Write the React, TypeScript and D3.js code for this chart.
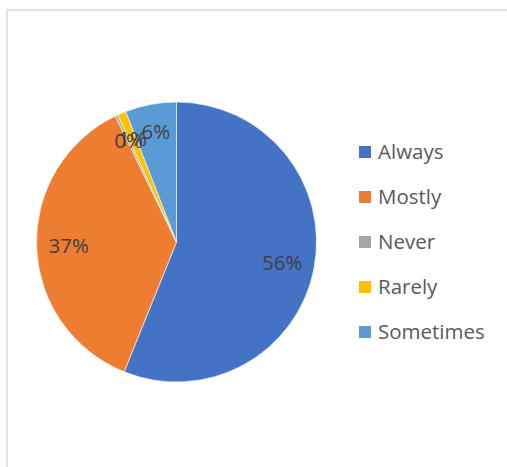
import * as d3 from 'd3';

const categories = ['Always', 'Mostly', 'Never', 'Rarely', 'Sometimes'];
const shares = [56.1, 36.7, 0.3, 1.0, 5.9];
const colors = ['#4472C4', '#ED7D31', '#A5A5A5', '#FFC000', '#5B9BD5'];

const W = 507;
const H = 467;

export default function App() {
  const cx = 176.5;
  const cy = 242;
  const radius = 140;

  const pie = d3
    .pie<number>()
    .sort(null)
    .value((d) => d);
  const slices = pie(shares);

  const arc = d3.arc<d3.PieArcDatum<number>>().innerRadius(0).outerRadius(radius);
  // bigger slices get labels a bit further in, like Excel's best fit
  const labelArc = (small: boolean) =>
    d3
      .arc<d3.PieArcDatum<number>>()
      .innerRadius(radius * (small ? 0.8 : 0.77))
      .outerRadius(radius * (small ? 0.8 : 0.77));

  const legendY = d3
    .scalePoint<string>()
    .domain(categories)
    .range([152, 332]);

  const font = "'Open Sans', sans-serif";

  return (
    <div style={{ position: 'fixed', left: 0, top: 0 }}>
      <svg width={W} height={H} style={{ display: 'block', background: '#fff' }}>
        <rect x={7} y={10} width={700} height={700} fill="#fff" stroke="#d9d9d9" strokeWidth={1.5} />

        <g transform={`translate(${cx},${cy})`}>
          {slices.map((s, i) => (
            <path key={categories[i]} d={arc(s) || ''} fill={colors[i]} stroke="#fff" strokeWidth={0.6} />
          ))}
          {slices.map((s, i) => {
            const [x, y] = labelArc(shares[i] < 10).centroid(s);
            return (
              <text
                key={'l' + categories[i]}
                x={x}
                y={y}
                dy="0.35em"
                textAnchor="middle"
                fontFamily={font}
                fontSize={20.5}
                fill="#404040"
              >
                {d3.format('.0f')(shares[i])}%
              </text>
            );
          })}
        </g>

        <g>
          {categories.map((c, i) => (
            <g key={'g' + c} transform={`translate(359,${legendY(c)})`}>
              <rect x={0} y={-6} width={12} height={12} fill={colors[i]} />
              <text x={19} y={0} dy="0.35em" fontFamily={font} fontSize={20.5} fill="#595959">
                {c}
              </text>
            </g>
          ))}
        </g>
      </svg>
    </div>
  );
}
